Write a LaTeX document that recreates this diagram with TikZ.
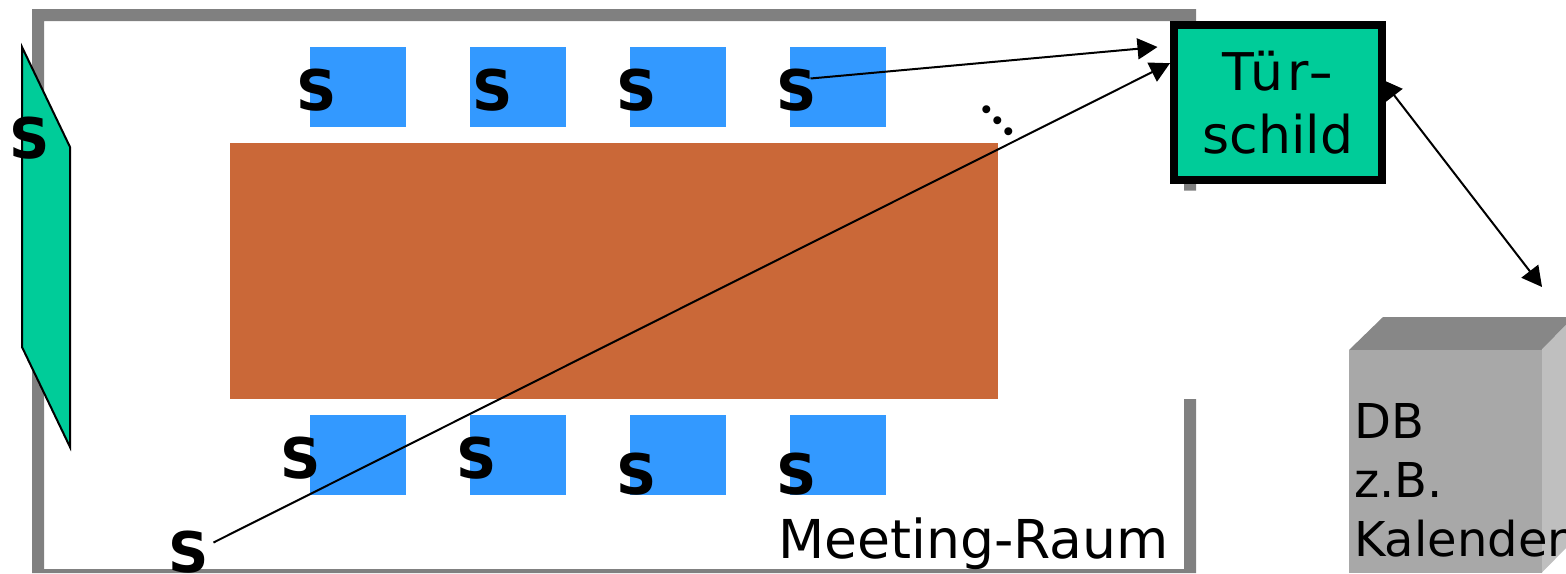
\documentclass[tikz,border=0pt]{standalone}
\usepackage{fontspec}
\setmainfont{DejaVu Sans}
\newfontfamily\dotfont{Poppins}
\usetikzlibrary{arrows.meta}
\definecolor{wallgray}{HTML}{808080}
\definecolor{signgreen}{HTML}{00CC99}
\definecolor{chairblue}{HTML}{3399FF}
\definecolor{tablebrown}{HTML}{CA6838}
\tikzset{
  chair/.style={shape=rectangle, fill=chairblue, minimum width=96pt, minimum height=80pt, inner sep=0pt},
  sensor/.style={inner sep=0pt, font=\fontsize{56}{56}\selectfont\bfseries},
  label/.style={inner sep=0pt, anchor=base west, font=\fontsize{53.6}{54}\selectfont},
  dbtext/.style={inner sep=0pt, anchor=base west, font=\fontsize{48}{48}\selectfont},
  pfeil/.style={line width=2pt, -{Triangle[length=20pt,width=21pt]}}
}
\begin{document}
\begin{tikzpicture}[x=1pt,y=-1pt]
\useasboundingbox (0,0) rectangle (1566,573);

\fill[wallgray] (1196,190.7) -- (1196,9) -- (32,9) -- (32,573) -- (1196,573) -- (1196,399) -- (1184,399) -- (1184,569) -- (44,569) -- (44,21) -- (1184,21) -- (1184,190.7) -- cycle;
\draw[fill=signgreen, line width=2pt] (22,47) -- (70,147) -- (70,447) -- (22,347) -- cycle;

\node[shape=rectangle, fill=tablebrown, minimum width=768pt, minimum height=256pt, inner sep=0pt](M) at (614,271){};

\node[chair](C1) at (358,87){};
\node[chair](C2) at (518,87){};
\node[chair](C3) at (678,87){};
\node[chair](C4) at (838,87){};
\node[chair](C5) at (358,455){};
\node[chair](C6) at (518,455){};
\node[chair](C7) at (678,455){};
\node[chair](C8) at (838,455){};

\node[sensor](S0) at (29.5,138){S};
\node[sensor](S1) at (317,90){S};
\node[sensor](S2) at (493,90){S};
\node[sensor](S3) at (637,90){S};
\node[sensor](S4) at (797,90){S};
\node[sensor](S5) at (301,458){S};
\node[sensor](S6) at (477,458){S};
\node[sensor](S7) at (637,474){S};
\node[sensor](S8) at (797,474){S};
\node[sensor](S9) at (189,552.5){S};

\node[inner sep=0pt, anchor=base, rotate=-45, font=\fontsize{64}{64}\selectfont\dotfont\addfontfeature{LetterSpace=3}](D) at (995.1,123.6){...};
\node[label](R) at (778,558){Meeting-Raum};

\node[shape=rectangle, draw=black, fill=signgreen, line width=8pt, minimum width=208pt, minimum height=155pt, inner sep=0pt, align=center, font=\fontsize{52}{63}\selectfont](T) at (1278,102.5){{\addfontfeature{LetterSpace=7}T\"ur\scalebox{1.35}[1]{-}}\\schild};

\coordinate (P) at (1157.5,47);
\coordinate (Q) at (1542,287);
\draw[pfeil] ([shift={(13.5,-11.5)}]S4.center) -- (P);
\draw[pfeil] ([shift={(24.5,-10)}]S9.center) -- (T.160);
\draw[line width=2pt, {Triangle[length=20pt,width=21pt]}-{Triangle[length=20pt,width=21pt]}] ([xshift=-4pt]T.12) -- (Q);

\fill[fill=black!47] (1349,350) -- (1383,317) -- (1566,317) -- (1566,325) -- (1541.5,350) -- cycle;
\fill[fill=black!25] (1541.5,350) -- (1566,325) -- (1566,548) -- (1541.5,573) -- cycle;
\fill[fill=black!34](1349,350) rectangle (1541.5,573);
\node[dbtext](B1) at (1354,438){DB};
\node[dbtext](B2) at (1354,497){z.B.};
\node[dbtext](B3) at (1354,556){Kalender};
\end{tikzpicture}
\end{document}
